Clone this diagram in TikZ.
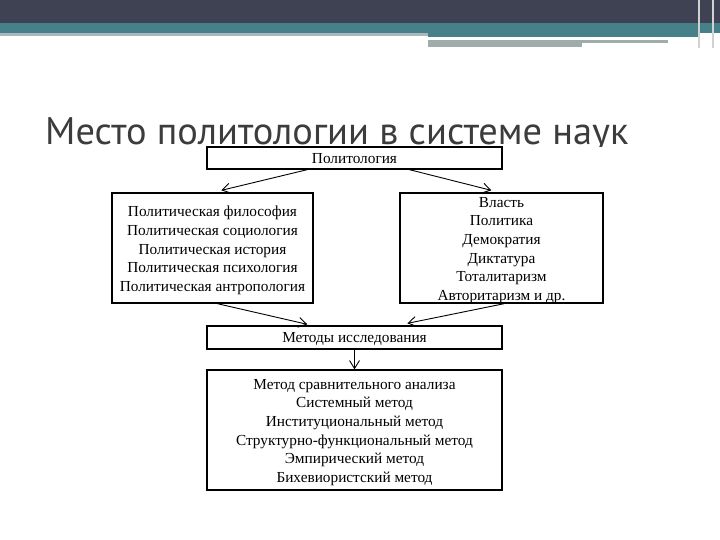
\documentclass[tikz,border=0pt]{standalone}
\usepackage{fontspec}
\setmainfont{Liberation Serif}
\newfontfamily\titlefont{PT Sans}
\usetikzlibrary{arrows.meta,calc}
\definecolor{darkband}{RGB}{63,66,82}
\definecolor{tealband}{RGB}{70,128,137}
\definecolor{lightline}{RGB}{168,184,188}
\definecolor{barg}{RGB}{160,172,172}
\definecolor{titlecol}{RGB}{60,60,60}
\begin{document}
\begin{tikzpicture}[x=1pt,y=-1pt,
  box/.style={draw=black,line width=1.3pt,fill=white,inner sep=0pt},
  txt/.style={inner sep=0pt,align=center,font=\fontsize{15.3}{18.7}\selectfont},
  arr/.style={line width=0.9pt,-{Straight Barb[length=8pt,width=10pt]}}]
\useasboundingbox (0,0) rectangle (720,540);
\fill[white] (0,0) rectangle (720,540);
% header bands
\fill[darkband] (0,0) rectangle (720,23);
\fill[tealband] (0,23) rectangle (720,33);
\fill[lightline] (0,33) rectangle (428,36);
\fill[tealband] (428,33) rectangle (700,37);
\fill[barg] (428,40) rectangle (668,43);
\fill[barg] (428,43) rectangle (582,47);
\fill[gray!35] (698,0) rectangle (700,48);
\fill[gray!35] (712,0) rectangle (714,48);
% title
\begin{scope}
\clip (0,0) rectangle (720,147);
\node[anchor=base west,inner sep=0pt,text=titlecol,
  font=\titlefont\fontsize{38.4}{40}\selectfont] (title) at (45,145) {Место политологии в системе наук};
\end{scope}
% boxes
\node[box,minimum width=295pt,minimum height=22pt] (polit) at (354.5,158) {};
\node[box,minimum width=201pt,minimum height=110pt] (left) at (212.5,248) {};
\node[box,minimum width=203pt,minimum height=110pt] (right) at (501.5,248) {};
\node[box,minimum width=295pt,minimum height=23pt] (meth) at (354.5,337.5) {};
\node[box,minimum width=295pt,minimum height=120pt] (bottom) at (354.5,430) {};
% texts
\node[txt] (politt) at ($(polit.center)+(0,1)$) {Политология};
\node[txt] (leftt) at ($(left.center)+(0,2.5)$)
  {Политическая философия\\Политическая социология\\Политическая история\\Политическая психология\\Политическая антропология};
\node[txt] (rightt) at ($(right.center)+(0,2.5)$)
  {Власть\\Политика\\Демократия\\Диктатура\\Тоталитаризм\\Авторитаризм и др.};
\node[txt] (metht) at ($(meth.center)+(0,1.5)$) {Методы исследования};
\node[txt] (bottomt) at ($(bottom.center)+(0,2.5)$)
  {Метод сравнительного анализа\\Системный метод\\Институциональный метод\\Структурно-функциональный метод\\Эмпирический метод\\Бихевиористский метод};
% arrows
\draw[arr] ($(polit.south west)+(101,0)$) -- ($(left.north west)+(110,-2)$);
\draw[arr] ($(polit.south west)+(203,0)$) -- ($(right.north west)+(92,-2)$);
\draw[arr] ($(left.south west)+(106,0)$) -- ($(meth.north west)+(101,-1)$);
\draw[arr] ($(right.south west)+(105,0)$) -- ($(meth.north west)+(201,-2)$);
\draw[arr] (meth.south) -- (bottom.north);
\end{tikzpicture}
\end{document}
